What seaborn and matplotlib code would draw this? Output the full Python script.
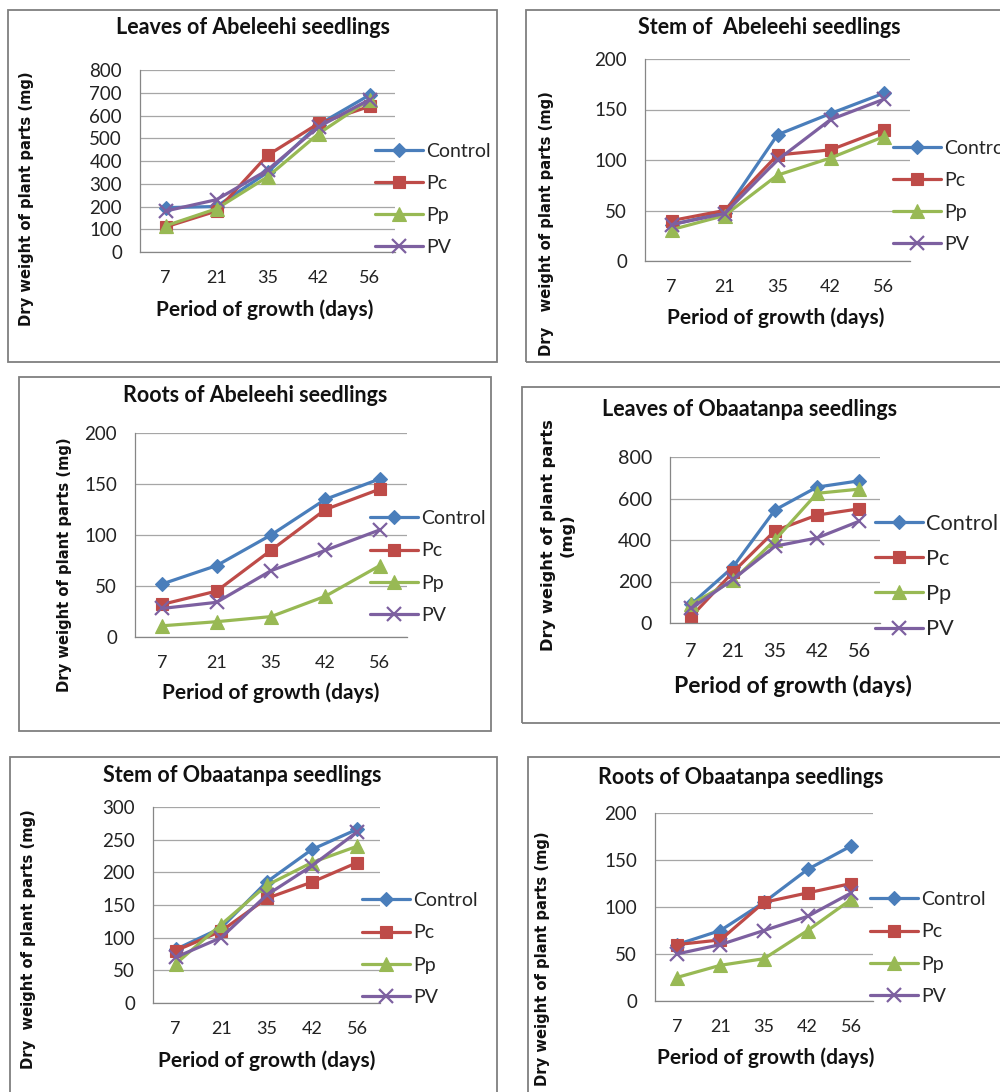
import numpy as np
import pandas as pd
import matplotlib
matplotlib.use("Agg")
import matplotlib.pyplot as plt
import seaborn as sns
from matplotlib.patches import Rectangle

# ---------------- data ----------------
days = ["7", "21", "35", "42", "56"]
series = ["Control", "Pc", "Pp", "PV"]

leaves_abe_control = [195, 200, 350, 560, 690]
leaves_abe_pc = [110, 180, 425, 565, 640]
leaves_abe_pp = [115, 190, 330, 520, 670]
leaves_abe_pv = [180, 230, 360, 550, 670]

stem_abe_control = [36, 48, 125, 146, 166]
stem_abe_pc = [40, 50, 105, 110, 130]
stem_abe_pp = [31, 45, 85, 102, 123]
stem_abe_pv = [36, 47, 100, 140, 160]

roots_abe_control = [52, 70, 100, 135, 155]
roots_abe_pc = [32, 45, 85, 125, 145]
roots_abe_pp = [11, 15, 20, 40, 70]
roots_abe_pv = [28, 34, 65, 85, 105]

leaves_oba_control = [90, 270, 545, 655, 685]
leaves_oba_pc = [30, 245, 445, 520, 550]
leaves_oba_pp = [90, 205, 400, 625, 645]
leaves_oba_pv = [70, 210, 370, 410, 490]

stem_oba_control = [82, 115, 185, 235, 266]
stem_oba_pc = [80, 110, 160, 185, 215]
stem_oba_pp = [60, 120, 180, 215, 240]
stem_oba_pv = [70, 100, 165, 210, 262]

roots_oba_control = [60, 75, 105, 140, 165]
roots_oba_pc = [60, 65, 105, 115, 125]
roots_oba_pp = [25, 38, 45, 75, 108]
roots_oba_pv = [50, 60, 75, 90, 115]

titles = ["Leaves of Abeleehi seedlings", "Stem of  Abeleehi seedlings",
          "Roots of Abeleehi seedlings", "Leaves of Obaatanpa seedlings",
          "Stem of Obaatanpa seedlings", "Roots of Obaatanpa seedlings"]
ylabels = ["Dry weight of plant parts (mg)", "Dry   weight of plant parts (mg)",
           "Dry weight of plant parts (mg)", "Dry weight of plant parts\n(mg)",
           "Dry  weight of plant parts (mg)", "Dry weight of plant parts (mg)"]
xlabel = "Period of growth (days)"

panel_data = [
    [leaves_abe_control, leaves_abe_pc, leaves_abe_pp, leaves_abe_pv],
    [stem_abe_control, stem_abe_pc, stem_abe_pp, stem_abe_pv],
    [roots_abe_control, roots_abe_pc, roots_abe_pp, roots_abe_pv],
    [leaves_oba_control, leaves_oba_pc, leaves_oba_pp, leaves_oba_pv],
    [stem_oba_control, stem_oba_pc, stem_oba_pp, stem_oba_pv],
    [roots_oba_control, roots_oba_pc, roots_oba_pp, roots_oba_pv],
]
yticks_list = [list(range(0, 801, 100)), list(range(0, 201, 50)), list(range(0, 201, 50)),
               list(range(0, 801, 200)), list(range(0, 301, 50)), list(range(0, 201, 50))]

colors = {"Control": "#4A7EBB", "Pc": "#BE4B48", "Pp": "#98B954", "PV": "#7D60A0"}
markers = {"Control": "D", "Pc": "s", "Pp": "^", "PV": "x"}
msizes = {"Control": 7.5, "Pc": 9, "Pp": 9.5, "PV": 10}

# ---------------- layout (pixels) ----------------
W, H = 1000, 1092
sns.set_style("white")
plt.rcParams["font.family"] = ["Lato", "DejaVu Sans"]

fig = plt.figure(figsize=(W / 100, H / 100), dpi=100)
fig.patch.set_facecolor("white")

def rect(l, t, r, b):
    return [l / W, 1 - b / H, (r - l) / W, (b - t) / H]

def fx(x):
    return x / W

def fy(y):
    return 1 - y / H

panels = [
    dict(box=(8, 10, 497, 362), ax=(140, 70, 395, 252), title=(253, 28), yl=(27, 199),
         xl=(265, 310), leg=(375, 199.5), s=1.0),
    dict(box=(526, 10, 1010, 362), ax=(645, 59, 910, 261), title=(769, 28), yl=(547, 224),
         xl=(776, 318), leg=(893, 196.5), s=1.0),
    dict(box=(19, 377, 491, 731), ax=(135, 433, 407, 637), title=(255, 396), yl=(65, 565),
         xl=(271, 693), leg=(370, 567), s=1.0),
    dict(box=(522, 387, 1010, 723), ax=(670, 457, 880, 623), title=(750, 409), yl=(558, 535),
         xl=(793, 686), leg=(875, 576.5), s=1.1),
    dict(box=(10, 757, 497, 1100), ax=(153, 807, 380, 1003), title=(242, 775), yl=(29, 939),
         xl=(267, 1061), leg=(362, 949), s=1.0),
    dict(box=(528, 757, 1010, 1100), ax=(655, 813, 873, 1001), title=(741, 777), yl=(543, 959),
         xl=(766, 1058), leg=(870, 948), s=1.0),
]

pos = np.arange(len(days))

for i, p in enumerate(panels):
    bl, bt, br, bb = p["box"]
    fig.add_artist(Rectangle((fx(bl), fy(bb)), (br - bl) / W, (bb - bt) / H,
                             transform=fig.transFigure, fill=False,
                             edgecolor="#7F7F7F", lw=1.3))
    ax = fig.add_axes(rect(*p["ax"]))
    for name, vals in zip(series, panel_data[i]):
        sns.lineplot(x=pos, y=vals, ax=ax, color=colors[name], marker=markers[name],
                     markersize=msizes[name], markeredgecolor=colors[name],
                     markeredgewidth=1.6 if name == "PV" else 0.8,
                     linewidth=2.3, label=name, errorbar=None)
    yt = yticks_list[i]
    ax.set_ylim(yt[0], yt[-1])
    ax.set_xlim(-0.5, len(days) - 0.5)
    ax.set_yticks(yt)
    ax.set_yticklabels([str(v) for v in yt])
    ax.set_xticks(pos)
    ax.set_xticklabels(days)
    ax.set_xticks(np.arange(-0.5, len(days), 1.0), minor=True)
    s = p["s"]
    ax.tick_params(axis="x", which="major", length=0, pad=13 * s, labelsize=13 * s,
                   colors="#222222")
    ax.tick_params(axis="x", which="minor", length=6, width=0.9, color="#868686",
                   direction="out")
    ax.tick_params(axis="y", which="major", length=6, width=0.9, color="#868686",
                   direction="out", pad=7, labelsize=13.5 * (1.05 if s > 1 else 1),
                   labelcolor="#222222")
    ax.yaxis.grid(True, color="#A6A6A6", lw=0.9)
    ax.xaxis.grid(False)
    ax.set_axisbelow(True)
    for side in ["top", "right"]:
        ax.spines[side].set_visible(False)
    for side in ["left", "bottom"]:
        ax.spines[side].set_color("#868686")
        ax.spines[side].set_linewidth(0.9)
    ax.set_xlabel("")
    ax.set_ylabel("")
    ax.set_facecolor("none")

    handles, labels = ax.get_legend_handles_labels()
    k = 1.12 if s > 1 else 1
    lfs = 14 * k
    ax.legend(handles, labels, loc="center left",
              bbox_to_anchor=(fx(p["leg"][0]), fy(p["leg"][1])),
              bbox_transform=fig.transFigure, frameon=False,
              fontsize=lfs, handlelength=2.35 / k * 1.05,
              handletextpad=0.15, labelspacing=0.78 / k * 1.0, borderpad=0,
              borderaxespad=0, markerscale=1.0)

    fig.text(fx(p["title"][0]), fy(p["title"][1]), titles[i], ha="center", va="center",
             fontsize=15.5, fontweight="bold", color="#111111")
    fig.text(fx(p["xl"][0]), fy(p["xl"][1]), xlabel, ha="center", va="center",
             fontsize=15 * (1.1 if s > 1 else 1), fontweight="bold", color="#111111")
    fig.text(fx(p["yl"][0]), fy(p["yl"][1]), ylabels[i], ha="center", va="center",
             rotation=90, fontsize=10.6 * (1.1 if s > 1 else 1), fontweight="bold",
             family="DejaVu Sans", color="#111111", linespacing=1.3,
             multialignment="center")

fig.savefig("out.png", dpi=100, facecolor="white")
